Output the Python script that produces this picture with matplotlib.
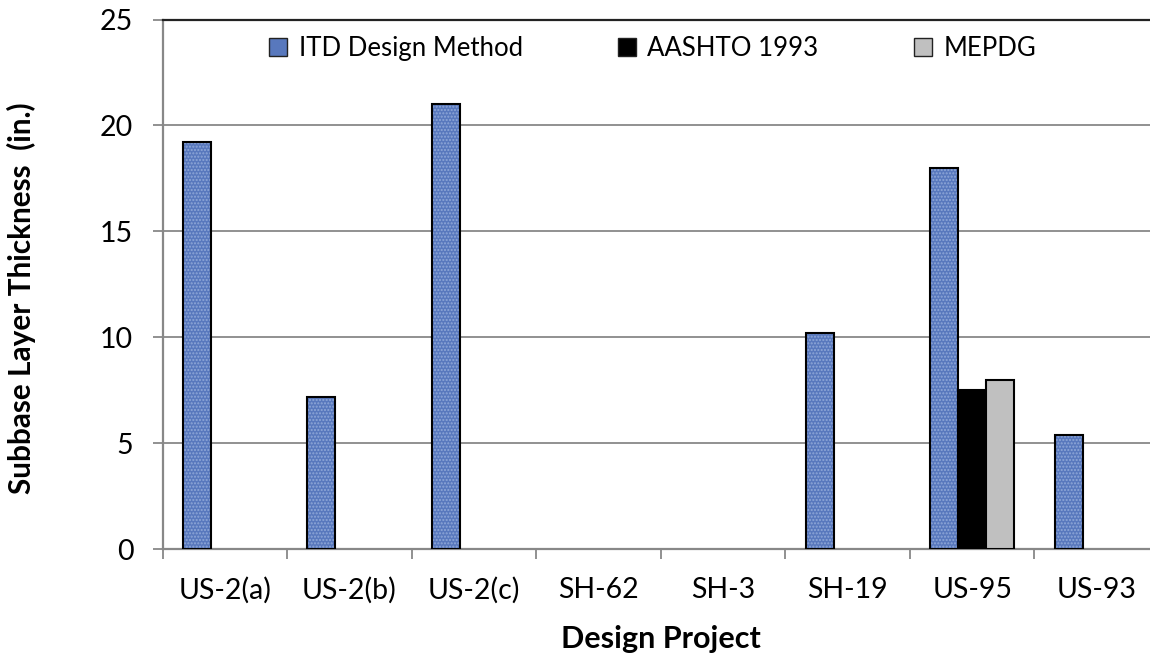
import matplotlib
matplotlib.use("Agg")
import matplotlib.pyplot as plt
import numpy as np

projects = ["US-2(a)", "US-2(b)", "US-2(c)", "SH-62", "SH-3", "SH-19", "US-95", "US-93"]
itd = [19.2, 7.2, 21.0, 0, 0, 10.2, 18.0, 5.4]
aashto = [0, 0, 0, 0, 0, 0, 7.5, 0]
mepdg = [0, 0, 0, 0, 0, 0, 8.0, 0]
series_names = ["ITD Design Method", "AASHTO 1993", "MEPDG"]
yticks = [0, 5, 10, 15, 20, 25]

plt.rcParams['font.family'] = ['Lato', 'DejaVu Sans']

W, H = 1150, 655
fig = plt.figure(figsize=(W / 100, H / 100), dpi=100)
left, right, top, bottom = 162.5, 1159, 19.5, 549.3
ax = fig.add_axes([left / W, 1 - bottom / H, (right - left) / W, (bottom - top) / H])

x = np.arange(len(projects))
bw = 0.225
FS = 20.5

def draw(vals, offset, color, label, texture=False):
    v = np.array(vals, dtype=float)
    mask = v > 0
    xs = x[mask] + offset
    if texture:
        ax.bar(xs, v[mask], bw, color=color, edgecolor='#8fa8d8', linewidth=0, hatch='.....', zorder=3)
        ax.bar(xs, v[mask], bw, facecolor='none', edgecolor='black', linewidth=1.5, zorder=4)
    else:
        ax.bar(xs, v[mask], bw, color=color, edgecolor='black', linewidth=1.5, zorder=3)
    return plt.Rectangle((0, 0), 1, 1, facecolor=color, edgecolor='#222222', linewidth=1.0, label=label)

h1 = draw(itd, -bw, '#5878bd', series_names[0], texture=True)
h2 = draw(aashto, 0, '#000000', series_names[1])
h3 = draw(mepdg, bw, '#c0c0c0', series_names[2])

ax.set_xlim(-0.5, len(projects) - 0.5)
ax.set_ylim(0, 25)
ax.set_yticks(yticks)
ax.set_xticks(x)
ax.set_xticklabels(projects, fontsize=FS)
ax.set_xticks(np.arange(len(projects)) - 0.5, minor=True)
ax.tick_params(axis='x', which='major', length=0, pad=20)
ax.tick_params(axis='x', which='minor', length=7, width=1.3, color='#888888')
ax.tick_params(axis='y', which='major', length=7, width=1.3, color='#888888', labelsize=FS, pad=14)
ax.yaxis.grid(True, color='#888888', linewidth=1.3, zorder=0)
ax.set_axisbelow(True)

ax.spines['right'].set_visible(False)
ax.spines['top'].set_color('#222222')
ax.spines['top'].set_linewidth(1.6)
ax.spines['left'].set_color('#888888')
ax.spines['left'].set_linewidth(1.6)
ax.spines['bottom'].set_color('#888888')
ax.spines['bottom'].set_linewidth(1.6)

ax.set_xlabel("Design Project", fontsize=22, fontweight='bold', labelpad=15)

# y label placed as free text, sized/positioned to match the reference layout
ylab = fig.text(0, 0, "Subbase Layer Thickness  (in.)", rotation=90, fontsize=24,
                fontweight='bold', ha='center', va='center')
target_h, target_cx, target_cy = 391.0, 21.0, 298.0
fig.canvas.draw()
r = fig.canvas.get_renderer()
for _ in range(3):
    bb = ylab.get_window_extent(r)
    ylab.set_fontsize(ylab.get_fontsize() * target_h / bb.height)
    fig.canvas.draw()
bb = ylab.get_window_extent(r)
# move center to target (pixel coords -> figure fraction, y measured from top)
cx, cy = (bb.x0 + bb.x1) / 2, (bb.y0 + bb.y1) / 2
ylab.set_position((target_cx / W, 1 - target_cy / H))
fig.canvas.draw()

leg = ax.legend(handles=[h1, h2, h3], loc='center left', bbox_to_anchor=(0.107, 0.945), ncol=3,
                frameon=False, fontsize=18.5, handlelength=0.7, handleheight=0.7,
                handletextpad=0.45, columnspacing=3.7, borderpad=0, borderaxespad=0)

fig.savefig("out.png", dpi=100)
